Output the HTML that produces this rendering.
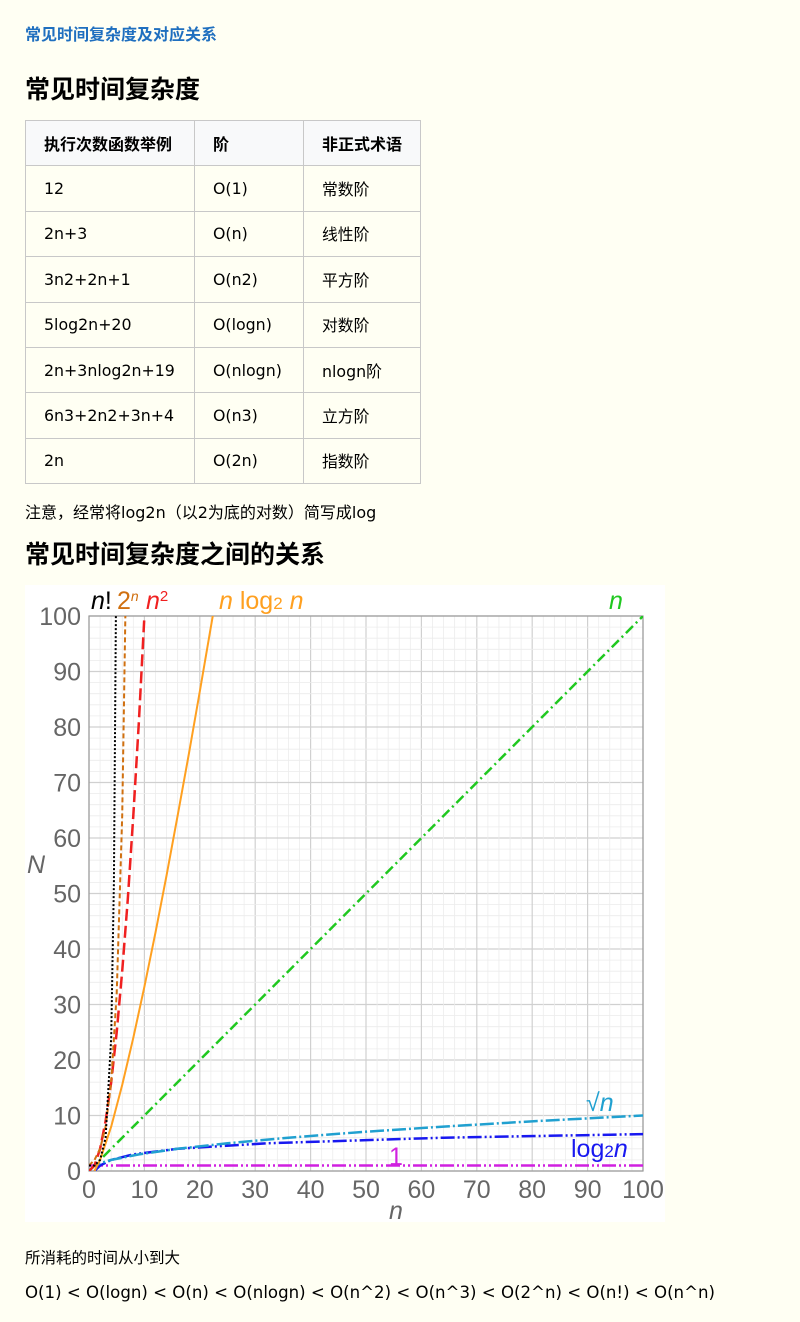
<!DOCTYPE html>
<html><head><meta charset="utf-8"><style>
body{margin:0;background:#fffff3;font-family:"DejaVu Sans","Noto Sans CJK SC",sans-serif;color:#000;width:800px;height:1322px;position:relative;overflow:hidden}
.a{position:absolute;white-space:nowrap}
.t1{left:25px;top:21px;font-size:16px;font-weight:bold;color:#1f6fbf;font-family:"Noto Sans CJK SC",sans-serif}
.h2{left:25px;font-size:25px;font-weight:bold;font-family:"Noto Sans CJK SC",sans-serif}
table{position:absolute;left:25px;top:120px;border-collapse:collapse;font-size:15.8px}
td,th{border:1px solid #c8c8c8;height:45.4px;padding:0 0 0 18px;text-align:left;box-sizing:border-box}
th{background:#f8f9fa;font-weight:bold;font-family:"Noto Sans CJK SC",sans-serif;font-size:16px}
.p{left:25px;font-size:14.5px}
</style></head><body>
<div class="a t1">常见时间复杂度及对应关系</div>
<div class="a h2" style="top:70px">常见时间复杂度</div>
<table>
<tr><th style="width:169px">执行次数函数举例</th><th style="width:109px">阶</th><th style="width:117px">非正式术语</th></tr>
<tr><td>12</td><td>O(1)</td><td>常数阶</td></tr>
<tr><td>2n+3</td><td>O(n)</td><td>线性阶</td></tr>
<tr><td>3n2+2n+1</td><td>O(n2)</td><td>平方阶</td></tr>
<tr><td>5log2n+20</td><td>O(logn)</td><td>对数阶</td></tr>
<tr><td>2n+3nlog2n+19</td><td>O(nlogn)</td><td>nlogn阶</td></tr>
<tr><td>6n3+2n2+3n+4</td><td>O(n3)</td><td>立方阶</td></tr>
<tr><td>2n</td><td>O(2n)</td><td>指数阶</td></tr>
</table>
<div class="a p" style="top:499px;font-size:16px">注意，经常将log2n（以2为底的对数）简写成log</div>
<div class="a h2" style="top:535px">常见时间复杂度之间的关系</div>
<svg class="a" style="left:25px;top:585px" width="640" height="637" id="chart"></svg>
<div class="a p" style="top:1246px;font-size:15.5px">所消耗的时间从小到大</div>
<div class="a p" style="top:1283px;font-size:16.6px">O(1) &lt; O(logn) &lt; O(n) &lt; O(nlogn) &lt; O(n^2) &lt; O(n^3) &lt; O(2^n) &lt; O(n!) &lt; O(n^n)</div>
<script>
const xTicks=[0,10,20,30,40,50,60,70,80,90,100];
const yTicks=[0,10,20,30,40,50,60,70,80,90,100];
const factN=[0,1,2,3,4,4.5,5];const factV=[1,1,2,6,24,52,120];
const expN=[0,1,2,3,4,5,6,7];const expV=[1,2,4,8,16,32,64,128];
const sqN=[0,1,2,3,4,5,6,7,8,9,10,11];const sqV=[0,1,4,9,16,25,36,49,64,81,100,121];
const nlogN=[1,2,4,6,8,10,12,14,16,18,20,22.5,24];const nlogV=[0,2,8,15.5,24,33.2,43,53.3,64,75,86.4,101,110];
const linN=[0,100];const linV=[0,100];
const rootN=[0,1,2,4,9,16,25,36,49,64,81,100];const rootV=[0,1,1.41,2,3,4,5,6,7,8,9,10];
const logN=[1,2,4,8,16,32,64,100];const logV=[0,1,2,3,4,5,6,6.64];
const oneN=[0,100];const oneV=[1,1];
const NS='http://www.w3.org/2000/svg';
const svg=document.getElementById('chart');
const X0=64,X1=618,Y0=586,Y1=31;
const sx=v=>X0+(X1-X0)*v/100, sy=v=>Y0-(Y0-Y1)*v/100;
function el(t,a,p){const e=document.createElementNS(NS,t);for(const k in a)e.setAttribute(k,a[k]);(p||svg).appendChild(e);return e;}
el('rect',{x:0,y:0,width:640,height:637,fill:'#fff'});
const defs=el('defs',{});const cp=el('clipPath',{id:'cp'},defs);el('rect',{x:X0,y:Y1,width:X1-X0,height:Y0-Y1},cp);
for(let v=0;v<=100;v+=2){
 const maj=v%10===0;
 const gx=el('line',{x1:sx(v),x2:sx(v),y1:Y1,y2:Y0,stroke:maj?'#d0d0d0':'#ececec','stroke-width':maj?1.2:0.8});
 
 const gy=el('line',{y1:sy(v),y2:sy(v),x1:X0,x2:X1,stroke:maj?'#d0d0d0':'#ececec','stroke-width':maj?1.2:0.8});
 
}
el('rect',{x:X0,y:Y1,width:X1-X0,height:Y0-Y1,fill:'none',stroke:'#999','stroke-width':1.2});
xTicks.forEach(v=>{const t=el('text',{x:sx(v),y:Y0+27,'text-anchor':'middle','font-size':25,fill:'#666','font-family':'Liberation Sans'});t.textContent=v;
});
yTicks.forEach(v=>{const t=el('text',{x:X0-8,y:sy(v)+9,'text-anchor':'end','font-size':25,fill:'#666','font-family':'Liberation Sans'});t.textContent=v;
});
function ax(x,y,s,name){const t=el('text',{x:x,y:y,'font-size':25,fill:'#666','font-style':'italic','font-family':'Liberation Sans'});t.textContent=s;}
ax(364,634,'n','x-axis-title');ax(2,288,'N','y-axis-title');
const g=el('g',{'clip-path':'url(#cp)'});
function series(ns,vs,color,dash,w,name){
 const d=ns.map((n,i)=>(i?'L':'M')+sx(n).toFixed(1)+','+sy(vs[i]).toFixed(1)).join(' ');
 const p=el('path',{d:d,fill:'none',stroke:color,'stroke-width':w,'stroke-dasharray':dash},g);
 
}
series(oneN,oneV,'#d020e0','14 3 2 3 2 3',2.5,'series-1');
series(logN,logV,'#1818f0','14 3 2 3 2 3',2.5,'series-log2n');
series(rootN,rootV,'#20a0d0','14 3 2 3',2.5,'series-sqrtn');
series(linN,linV,'#20c820','10 4 2 4',2.5,'series-n');
series(nlogN,nlogV,'#ffa020','',2,'series-nlog2n');
series(sqN,sqV,'#f02020','12 5',2.5,'series-n2');
series(expN,expV,'#d07010','5 3',2,'series-2n');
series(factN,factV,'#000','2 2',2,'series-nfact');
function lab(x,y,s,c,name,fs){const t=el('text',{x:x,y:y,'font-size':fs||25,fill:c,'font-family':'Liberation Sans'});t.innerHTML=s;}
lab(66,24,'<tspan font-style="italic">n</tspan>!','#000','label-nfact');
lab(92,24,'2<tspan font-size="14" dy="-8" font-style="italic">n</tspan>','#d07010','label-2n');
lab(121,24,'<tspan font-style="italic">n</tspan><tspan font-size="15" dy="-8">2</tspan>','#f02020','label-n2');
lab(194,24,'<tspan font-style="italic">n</tspan> log<tspan font-size="17">2</tspan> <tspan font-style="italic">n</tspan>','#ffa020','label-nlog2n');
lab(584,24,'<tspan font-style="italic">n</tspan>','#20c820','label-n');
lab(561,526,'√<tspan font-style="italic">n</tspan>','#20a0d0','label-sqrtn');
lab(546,572,'log<tspan font-size="17">2</tspan><tspan font-style="italic">n</tspan>','#1818f0','label-log2n');
lab(364,580,'1','#d020e0','label-1');
</script>
</body></html>
